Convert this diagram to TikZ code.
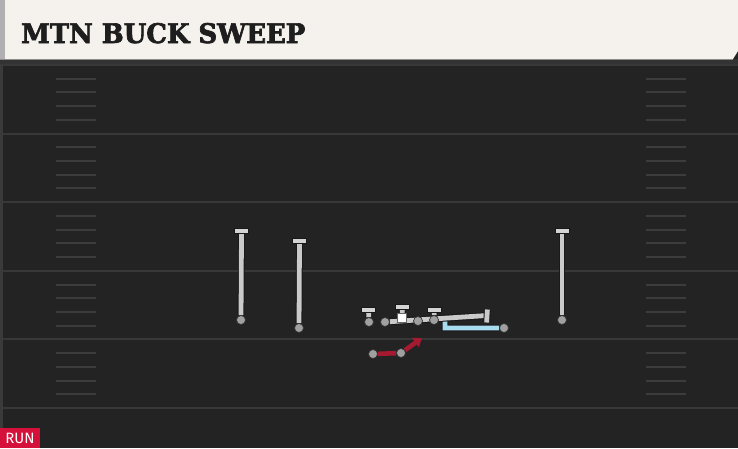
\documentclass[tikz,border=0pt]{standalone}
\usepackage{fontspec}
\usetikzlibrary{arrows.meta}
\newfontfamily\titlefont{DejaVu Serif}[FakeBold=2.5]
\newfontfamily\tagfont{Fira Sans}
\definecolor{fieldbg}{HTML}{232323}
\definecolor{fieldedge}{HTML}{3A3A3A}
\definecolor{yardc}{HTML}{383838}
\definecolor{hashc}{HTML}{3C3C3C}
\definecolor{headercream}{HTML}{F5F2ED}
\definecolor{headerstrip}{HTML}{B0B0B0}
\definecolor{titleink}{HTML}{1E1E1E}
\definecolor{routegrey}{HTML}{CACACA}
\definecolor{capgrey}{HTML}{D4D4D4}
\definecolor{dotgrey}{HTML}{A0A0A0}
\definecolor{routeblue}{HTML}{A9DCEE}
\definecolor{routered}{HTML}{A51A31}
\definecolor{runred}{HTML}{D5103A}
\pgfdeclarelayer{bg}
\pgfdeclarelayer{routes}
\pgfsetlayers{bg,routes,main}
\begin{document}
\begin{tikzpicture}[x=1pt,y=-1pt,
  yardline/.style={draw=yardc, line width=2pt},
  hash/.style={draw=hashc, line width=2pt},
  outline/.style={draw=black!90, line width=6.8pt},
  route/.style={draw=routegrey, line width=4.8pt, preaction={outline}},
  blueroute/.style={draw=routeblue, line width=4.8pt, preaction={outline}},
  redroute/.style={draw=routered, line width=4.6pt},
  capbar/.style={rectangle, minimum width=14pt, minimum height=5.5pt, inner sep=0pt, fill=capgrey, draw=black!90, line width=0.8pt},
  playerdot/.style={circle, minimum size=9pt, inner sep=0pt, fill=dotgrey, draw=black!80, line width=0.7pt},
  centersq/.style={rectangle, minimum size=8.5pt, inner sep=0pt, fill=white, draw=black!60, line width=0.6pt}]
\useasboundingbox (0,0) rectangle (738,448);

\begin{pgfonlayer}{bg}
  \fill[fieldbg] (0,0) rectangle (738,448);
  \fill[fieldedge] (0,59) rectangle (2.5,448);
  \fill[black!80] (0,59) rectangle (738,64);
  \foreach \yy in {65,133.6,202.2,270.8,339.4,408}
    \draw[yardline] (2.5,\yy) -- (738,\yy);
  \foreach \k in {0,...,4}
    \foreach \o in {13.7,27.4,41.1,54.8} {
      \draw[hash] (56,{65+68.6*\k+\o}) -- (96,{65+68.6*\k+\o});
      \draw[hash] (646,{65+68.6*\k+\o}) -- (686,{65+68.6*\k+\o});
    }
  \fill[headercream] (0,0) -- (738,0) -- (738,51) -- (733,59) -- (0,59) -- cycle;
  \fill[headerstrip] (0,0) rectangle (5,59);
  \draw[black!45, line width=0.8pt] (0,59) -- (733,59);
  \fill[runred] (0,428) rectangle (40,448);
\end{pgfonlayer}

% title and tag
\node[anchor=base west, inner sep=0pt, text=titleink] (title) at (21,43)
  {\resizebox{284pt}{20pt}{\titlefont\bfseries MTN BUCK SWEEP}};
\node[text=white, inner sep=0pt, font=\tagfont\fontsize{15pt}{15pt}\selectfont] (run) at (20,438) {RUN};

% players
\node[capbar] (p1c) at (241.5,231) {};
\node[playerdot] (p1) at (241,320) {};
\node[capbar] (p2c) at (299.5,241) {};
\node[playerdot] (p2) at (299,328) {};
\node[capbar] (p3c) at (562,231) {};
\node[playerdot] (p3) at (562,320) {};
\node[capbar] (lac) at (368.5,310) {};
\node[playerdot] (la) at (369,322) {};
\node[playerdot] (lb) at (385,322) {};
\node[capbar] (cc) at (402.5,307) {};
\node[centersq] (c) at (402,318) {};
\node[playerdot] (ld) at (418,321) {};
\node[capbar] (lec) at (434.5,310) {};
\node[playerdot] (le) at (434,320) {};
\node[playerdot] (rb) at (504,328) {};
\node[playerdot] (r1) at (373,354) {};
\node[playerdot] (r2) at (401,353) {};

\coordinate (blk) at (487,315.5);
\coordinate (blkt) at (487.4,309.5);
\coordinate (blkb) at (486.6,322.5);
\coordinate (bl1) at (445,328);
\coordinate (bl2) at (445,318);
\coordinate (bl3) at (460,317.3);
\coordinate (rt) at (422,338);

\begin{pgfonlayer}{routes}
  \draw[route] (p1c) -- (p1);
  \draw[route] (p2c) -- (p2);
  \draw[route] (p3c) -- (p3);
  \draw[route] (lac) -- (la);
  \draw[route] (cc) -- (c);
  \draw[route] (lec) -- (le);
  \draw[blueroute, line join=miter] (rb) -- (bl1) -- (bl2) -- (bl3);
  \draw[route] (lb) -- (blk);
  \draw[route] (blkt) -- (blkb);
  \draw[redroute, -{Triangle[length=8pt,width=11pt]}] (r1) -- (r2) -- (rt);
\end{pgfonlayer}
\end{tikzpicture}
\end{document}
